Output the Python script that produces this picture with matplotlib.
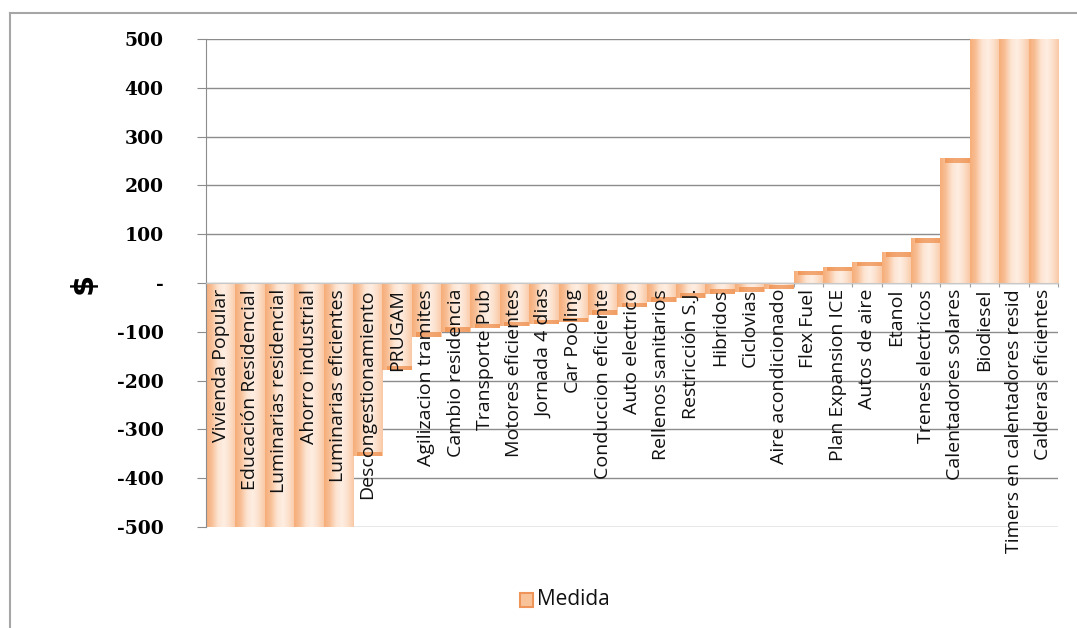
import numpy as np
import matplotlib
matplotlib.use("Agg")
from matplotlib import pyplot as plt
from matplotlib.colors import LinearSegmentedColormap
from matplotlib.lines import Line2D
from matplotlib.ticker import FuncFormatter

categories = ["Vivienda Popular", "Educación Residencial", "Luminarias residencial",
              "Ahorro industrial", "Luminarias eficientes", "Descongestionamiento",
              "PRUGAM", "Agilizacion tramites", "Cambio residencia", "Transporte Pub",
              "Motores eficientes", "Jornada 4 dias", "Car Pooling", "Conduccion eficiente",
              "Auto electrico", "Rellenos sanitarios", "Restricción S.J.", "Hibridos",
              "Ciclovias", "Aire acondicionado", "Flex Fuel", "Plan Expansion ICE",
              "Autos de aire", "Etanol", "Trenes electricos", "Calentadores solares",
              "Biodiesel", "Timers en calentadores resid", "Calderas eficientes"]
values = [-600, -600, -600, -600, -600, -355, -178, -110, -100, -92,
          -88, -84, -80, -65, -50, -38, -30, -22, -18, -12,
          25, 33, 43, 63, 92, 256, 600, 600, 600]
yticks = [-500, -400, -300, -200, -100, 0, 100, 200, 300, 400, 500]
series_name = "Medida"

grad = LinearSegmentedColormap.from_list(
    "bar", ["#F6AE78", "#F8C098", "#FDE4D1", "#FEEEE2", "#FCE0CB", "#F9C9A5"])
cap_color = "#EE8A45"
ymin, ymax = -500, 500

fig = plt.figure(figsize=(10.77, 6.28), dpi=100)
ax = fig.add_axes([0.1913, 0.1608, 0.791, 0.777])

n = len(categories)
x = np.arange(n)
bars = ax.bar(x, np.clip(values, ymin, ymax), width=1.0, color="none",
              edgecolor="none", zorder=2)
g = np.linspace(0, 1, 64).reshape(1, -1)
for b, v in zip(bars, values):
    x0 = b.get_x()
    w = b.get_width()
    y0, y1 = sorted([0, v])
    y0, y1 = max(y0, ymin), min(y1, ymax)
    im = ax.imshow(g, cmap=grad, aspect="auto", extent=[x0, x0 + w, y0, y1],
                   zorder=2, interpolation="bicubic")
    im.set_clip_path(b)
    if ymin < v < ymax:
        # darker cap at the bar end
        sgn = np.sign(v)
        ax.fill_between([x0 + 0.15 * w, x0 + w], v - sgn * 9, v,
                        color=cap_color, alpha=0.7, lw=0, zorder=3)

ax.set_xlim(-0.5, n - 0.5)
ax.set_ylim(ymin, ymax)
ax.set_yticks(yticks)
ax.yaxis.set_major_formatter(FuncFormatter(lambda v, p: "-" if v == 0 else f"{int(v)}"))
ax.grid(axis="y", color="#8C8C8C", lw=1, zorder=1)
ax.set_axisbelow(True)
for s in ["top", "right"]:
    ax.spines[s].set_visible(False)
ax.spines["left"].set_color("#8C8C8C")
ax.spines["bottom"].set_position(("data", 0))
ax.spines["bottom"].set_color("#C8C8C8")
ax.spines["bottom"].set_zorder(4)
ax.set_xticks(np.arange(-0.5, n, 1.0))
ax.set_xticklabels([])
ax.tick_params(axis="x", direction="out", length=3, color="#A0A0A0")
ax.tick_params(axis="y", length=6.5, color="#8C8C8C", pad=24)
for lab in ax.get_yticklabels():
    lab.set_fontfamily("DejaVu Serif")
    lab.set_fontweight("bold")
    lab.set_fontsize(13.5)

for i, name in enumerate(categories):
    ax.text(i, -12, name, rotation=90, ha="center", va="top", fontsize=14,
            family="Open Sans", color="#111111", zorder=5, clip_on=False)

ax.set_ylabel("$", fontsize=22, fontweight="bold", labelpad=14, family="DejaVu Sans")

# legend
lx, ly = 0.483, 0.034
fig.patches.append(plt.Rectangle((lx, ly), 0.012, 0.021, transform=fig.transFigure,
                                 facecolor="#F9C39A", edgecolor="#F0955A", lw=1.5))
fig.text(lx + 0.016, ly + 0.011, series_name, fontsize=15, family="Open Sans",
         va="center", ha="left", color="#111111")

# outer chart frame
fig.add_artist(Line2D([0.0093, 0.0093], [0.0, 0.979], color="#A6A6A6", lw=1.5))
fig.add_artist(Line2D([0.0093, 1.0], [0.979, 0.979], color="#A6A6A6", lw=1.5))

fig.savefig("out.png", dpi=100)
